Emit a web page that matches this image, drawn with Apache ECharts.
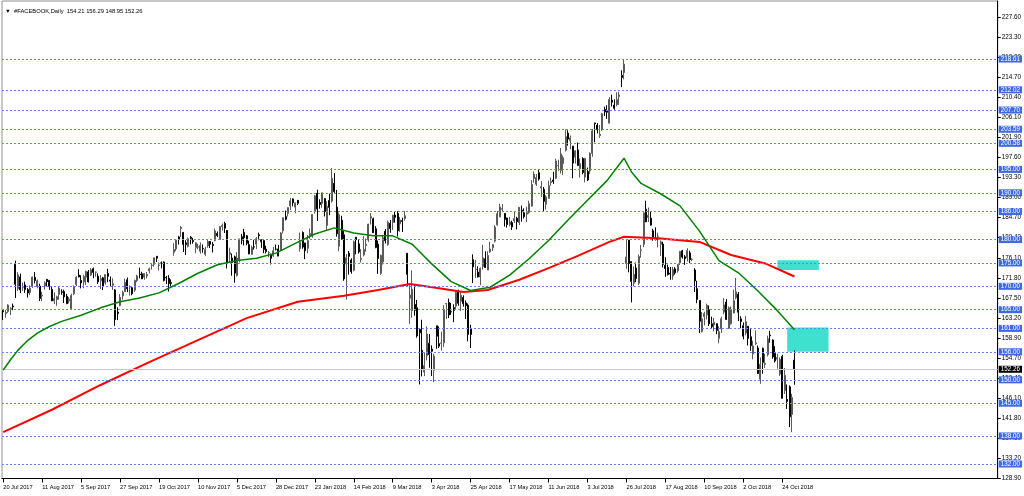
<!DOCTYPE html>
<html><head><meta charset="utf-8">
<script src="https://cdn.jsdelivr.net/npm/echarts@6/dist/echarts.min.js"></script>
<style>html,body{margin:0;padding:0;background:#fff}#c{width:1024px;height:496px}</style>
</head><body><div id="c"></div><script>
const symbolName = '#FACEBOOK,Daily';
const lastBar = [154.21, 156.29, 148.95, 152.26];

const tradingDays = [
 ['Jul 2017',[20,21,24,25,26,27,28,31]],
 ['Aug 2017',[1,2,3,4,7,8,9,10,11,14,15,16,17,18,21,22,23,24,25,28,29,30,31]],
 ['Sep 2017',[1,5,6,7,8,11,12,13,14,15,18,19,20,21,22,25,26,27,28,29]],
 ['Oct 2017',[2,3,4,5,6,9,10,11,12,13,16,17,18,19,20,23,24,25,26,27,30,31]],
 ['Nov 2017',[1,2,3,6,7,8,9,10,13,14,15,16,17,20,21,22,24,27,28,29,30]],
 ['Dec 2017',[1,4,5,6,7,8,11,12,13,14,15,18,19,20,21,22,26,27,28,29]],
 ['Jan 2018',[2,3,4,5,8,9,10,11,12,16,17,18,19,22,23,24,25,26,29,30,31]],
 ['Feb 2018',[1,2,5,6,7,8,9,12,13,14,15,16,20,21,22,23,26,27,28]],
 ['Mar 2018',[1,2,5,6,7,8,9,12,13,14,15,16,19,20,21,22,23,26,27,28,29]],
 ['Apr 2018',[2,3,4,5,6,9,10,11,12,13,16,17,18,19,20,23,24,25,26,27,30]],
 ['May 2018',[1,2,3,4,7,8,9,10,11,14,15,16,17,18,21,22,23,24,25,29,30,31]],
 ['Jun 2018',[1,4,5,6,7,8,11,12,13,14,15,18,19,20,21,22,25,26,27,28,29]],
 ['Jul 2018',[2,3,5,6,9,10,11,12,13,16,17,18,19,20,23,24,25,26,27,30,31]],
 ['Aug 2018',[1,2,3,6,7,8,9,10,13,14,15,16,17,20,21,22,23,24,27,28,29,30,31]],
 ['Sep 2018',[3,4,5,6,7,10,11,12,13,14,17,18,19,20,21,24,25,26,27,28]],
 ['Oct 2018',[1,2,3,4,5,8,9,10,11,12,15,16,17,18,19,22,23,24,25,26,29,30,31]]
];

// [open, high, low, close]
const c2017_07 = [[164.8,165.0,162.8,164.53],[164.16,164.94,163.3,164.43],[164.64,166.17,164.31,166.0],[165.01,165.54,163.86,165.28],[165.8,166.31,164.9,165.61],[174.7,175.49,167.5,170.44],[169.5,173.05,169.0,172.45],[172.0,172.72,168.55,169.25]];
const c2017_08 = [[169.82,170.8,169.05,169.86],[170.3,171.0,168.6,169.3],[169.3,169.6,167.6,168.59],[168.7,170.2,168.1,169.62],[169.95,172.06,169.66,171.98],[171.88,173.05,170.62,171.23],[169.98,171.45,169.56,171.18],[170.06,170.59,166.85,167.4],[167.95,168.82,166.85,168.08],[170.09,171.08,169.29,170.75],[171.49,171.5,170.01,171.0],[171.25,171.38,169.24,170.0],[169.34,169.86,166.85,166.91],[166.84,168.67,166.21,167.41],[167.16,168.0,165.82,167.78],[168.28,169.87,167.15,169.64],[168.84,169.36,168.2,168.71],[168.88,169.29,166.41,167.74],[167.86,168.38,166.18,166.32],[166.91,167.7,166.33,167.24],[165.25,168.43,165.0,168.05],[168.42,170.2,168.12,169.92],[170.4,172.15,170.06,171.97]];
const c2017_09 = [[172.4,173.67,171.9,172.02],[171.27,172.39,169.55,170.72],[170.91,172.48,169.57,172.09],[171.94,173.31,170.27,173.21],[173.09,173.49,170.8,170.95],[172.4,173.89,172.2,173.51],[173.76,174.0,171.75,172.96],[173.01,173.17,172.06,173.05],[172.17,172.77,170.47,170.96],[171.2,172.39,169.4,171.64],[171.81,172.0,169.21,170.01],[170.76,172.56,170.36,172.52],[172.76,173.74,170.9,172.17],[171.35,172.13,170.0,171.11],[170.21,171.73,169.22,170.54],[169.24,169.4,161.56,162.87],[164.5,165.5,162.78,164.21],[165.9,168.35,165.72,167.68],[167.94,169.07,167.16,168.73],[168.83,171.66,168.81,170.87]];
const c2017_10 = [[171.39,171.87,168.75,169.47],[169.83,170.21,168.02,169.96],[169.7,169.98,168.09,168.42],[169.17,171.45,168.8,171.24],[171.2,172.5,170.9,172.23],[172.62,174.0,171.71,172.5],[172.69,173.1,171.55,171.59],[171.95,172.78,171.4,172.74],[172.21,173.06,171.67,172.55],[173.32,174.0,172.75,173.74],[174.49,175.0,173.56,174.52],[174.71,176.1,174.17,176.11],[176.41,176.5,175.2,176.03],[174.49,175.1,173.4,174.56],[175.0,175.31,173.83,174.98],[175.21,175.3,171.03,171.27],[171.9,172.25,170.5,171.8],[171.72,172.39,168.88,170.6],[170.8,171.47,169.74,170.63],[177.24,179.23,176.53,177.88],[178.0,179.86,177.52,179.87],[180.57,180.8,178.94,180.06]];
const c2017_11 = [[182.36,182.9,180.57,182.66],[181.53,181.6,177.35,178.92],[179.29,179.86,176.71,178.92],[178.56,180.45,178.31,180.17],[180.5,180.75,178.96,180.25],[179.79,180.35,179.11,179.56],[178.31,179.4,177.09,179.3],[178.35,179.1,177.96,178.46],[177.5,179.38,176.99,178.77],[178.13,178.97,177.18,178.07],[176.85,178.45,176.44,177.95],[178.64,179.98,178.23,179.59],[179.6,179.68,178.2,179.0],[178.96,179.49,177.25,178.74],[179.78,182.35,179.6,181.86],[181.3,181.73,180.51,180.87],[180.0,182.9,180.0,182.78],[182.78,183.42,181.93,183.03],[183.45,183.81,181.4,182.42],[181.94,182.05,173.82,175.13],[176.85,178.27,175.2,177.18]];
const c2017_12 = [[176.03,177.0,172.26,175.1],[176.3,176.57,170.79,172.83],[172.3,177.3,172.1,176.06],[175.6,180.17,175.11,180.14],[180.6,181.21,178.99,179.87],[181.53,182.28,178.74,180.39],[180.8,180.99,178.79,179.2],[178.9,179.77,176.85,176.94],[176.85,178.68,176.78,178.3],[178.44,179.94,177.85,178.39],[179.0,180.53,177.97,180.18],[181.01,181.48,179.84,180.82],[179.95,180.08,178.22,179.51],[179.81,179.81,177.08,177.89],[177.94,178.68,177.05,177.45],[177.14,177.53,176.23,177.2],[176.63,177.0,174.67,175.99],[176.55,178.44,176.26,177.62],[177.95,178.94,177.68,177.92],[178.0,178.85,176.46,176.46]];
const c2018_01 = [[177.68,181.58,177.55,181.42],[181.88,184.78,181.33,184.67],[184.9,186.21,184.1,184.33],[185.59,186.9,184.93,186.85],[187.2,188.9,186.33,188.28],[188.7,188.8,187.1,187.87],[186.94,187.89,185.63,187.84],[188.4,188.4,187.38,187.77],[178.06,181.48,177.4,179.37],[181.5,181.75,178.04,178.39],[179.26,179.32,175.8,177.6],[178.13,180.98,177.08,179.8],[180.85,182.37,180.17,181.29],[180.8,185.39,180.41,185.37],[186.05,189.55,185.55,189.35],[189.89,190.66,183.97,186.55],[187.95,188.62,186.6,187.48],[187.75,190.0,186.81,190.0],[188.75,188.84,184.94,185.98],[183.01,188.18,181.84,187.12],[188.37,189.83,185.22,186.89]];
const c2018_02 = [[188.22,195.32,187.89,193.09],[192.04,194.21,189.98,190.28],[186.93,190.61,180.61,181.26],[178.57,185.77,177.52,185.31],[184.15,185.08,179.95,180.18],[181.01,181.99,171.18,171.58],[174.76,176.9,167.18,176.11],[177.06,177.55,172.5,176.41],[175.62,175.98,172.7,173.15],[173.45,179.81,173.21,179.52],[180.5,180.5,176.84,179.96],[179.09,179.95,177.0,177.36],[175.77,177.95,175.11,176.01],[176.71,180.74,176.4,177.91],[178.7,180.21,177.41,178.99],[179.9,183.39,179.51,183.29],[184.58,185.66,183.22,184.93],[184.45,184.7,181.46,181.46],[182.3,182.88,178.14,178.32]];
const c2018_03 = [[179.01,179.78,172.66,175.94],[172.8,176.8,172.45,176.62],[175.21,181.0,174.66,180.4],[181.78,182.25,179.17,179.78],[178.95,184.06,178.67,183.71],[183.47,184.18,181.46,182.34],[183.61,185.23,182.02,185.23],[185.23,186.1,183.63,184.76],[185.61,186.06,180.65,181.88],[183.34,184.84,181.66,184.19],[184.06,184.67,181.62,183.86],[184.49,186.1,184.05,185.09],[177.01,177.17,170.06,172.56],[167.47,170.2,161.95,168.15],[164.8,173.4,163.3,169.39],[166.13,170.27,163.72,164.89],[165.44,167.1,159.02,159.39],[160.82,161.1,149.02,160.06],[156.31,162.85,150.75,152.22],[151.65,155.88,150.8,153.03],[155.15,161.42,154.14,159.79]];
const c2018_04 = [[157.81,159.78,152.6,155.39],[156.55,157.39,150.81,156.11],[152.03,155.56,149.53,155.1],[161.56,161.57,156.65,159.34],[157.73,161.42,156.81,157.2],[157.82,160.31,156.24,157.93],[157.93,165.98,157.01,165.04],[166.23,166.45,163.01,166.32],[166.55,167.37,163.2,163.87],[164.58,166.46,163.9,164.52],[165.44,166.17,162.33,164.83],[165.76,169.0,165.04,168.66],[168.91,169.3,165.84,166.36],[166.8,168.89,164.75,168.1],[167.6,168.06,165.65,166.28],[166.46,167.0,163.03,165.84],[165.99,166.33,158.22,159.69],[160.9,161.76,156.8,159.69],[175.7,176.84,170.69,174.16],[173.58,175.65,171.76,173.59],[173.05,174.28,171.9,172.0]];
const c2018_05 = [[172.0,174.02,170.23,173.86],[174.25,178.87,173.57,176.07],[175.88,177.5,174.44,174.02],[173.49,177.5,173.48,176.61],[177.35,179.5,177.17,177.97],[178.25,179.03,177.55,178.92],[179.67,183.07,179.36,182.66],[183.15,186.1,182.96,185.53],[184.85,187.67,184.75,186.99],[186.5,187.6,185.87,186.64],[185.58,185.64,182.8,184.32],[184.61,184.71,182.55,183.2],[183.2,184.84,182.82,183.76],[183.66,184.03,182.05,182.68],[184.0,186.08,183.55,184.49],[184.56,184.88,182.18,183.8],[183.62,186.96,183.11,186.9],[186.24,187.27,183.83,185.93],[185.73,186.66,184.5,184.92],[185.44,187.07,183.72,185.74],[185.81,188.31,185.5,187.67],[187.17,192.72,187.04,191.78]];
const c2018_06 = [[193.07,194.58,192.15,193.99],[191.84,193.98,191.47,193.28],[194.3,195.0,192.62,192.94],[191.03,192.53,189.11,191.34],[190.75,191.25,186.1,188.18],[187.53,189.48,186.43,189.1],[188.81,192.6,188.8,191.54],[192.17,193.28,191.56,192.4],[192.74,194.5,191.91,192.41],[193.1,197.28,192.91,196.81],[195.79,197.07,194.64,195.85],[194.8,199.58,194.13,198.31],[196.24,197.96,193.79,197.49],[199.1,203.55,198.81,202.0],[202.76,203.39,200.09,201.5],[201.16,202.24,199.31,201.74],[200.0,200.0,193.11,196.35],[197.6,199.1,196.23,199.0],[199.18,200.75,195.8,195.84],[195.18,197.34,193.26,196.23],[197.32,197.6,193.96,194.32]];
const c2018_07 = [[193.37,197.45,192.22,197.36],[194.55,195.4,192.52,192.73],[194.74,198.65,194.03,198.45],[198.45,203.64,197.7,203.23],[204.93,204.99,200.8,204.74],[204.5,204.9,202.7,203.54],[202.22,204.5,201.75,202.54],[203.43,207.08,203.3,206.92],[207.81,208.43,206.43,207.32],[207.5,208.72,205.81,207.23],[204.9,210.46,204.84,209.99],[209.82,210.99,208.44,209.36],[208.77,209.99,207.76,208.09],[208.85,211.5,208.5,209.94],[210.58,211.62,208.8,210.91],[215.11,216.2,212.6,214.67],[215.72,218.62,214.27,217.5],[174.89,180.13,173.75,176.26],[179.87,179.93,173.0,174.89],[175.3,175.3,166.56,171.06],[170.67,174.24,170.0,172.58]];
const c2018_08 = [[173.93,175.08,170.9,171.65],[170.68,176.79,170.27,176.37],[177.69,178.85,176.15,177.78],[178.97,185.79,178.38,185.69],[186.5,188.3,183.72,183.81],[184.75,186.85,183.76,185.18],[184.58,186.09,183.0,183.09],[181.88,182.3,179.75,180.26],[180.1,182.61,179.79,180.05],[180.71,181.46,178.3,180.71],[178.97,179.8,176.5,179.53],[179.04,179.54,174.05,174.7],[174.5,176.22,172.04,173.8],[174.04,174.65,172.31,172.5],[172.81,174.17,171.39,172.62],[172.21,174.17,171.39,173.64],[173.73,174.12,172.5,172.9],[173.33,174.75,172.94,174.65],[175.0,177.6,174.57,177.46],[177.6,177.8,175.91,176.26],[176.3,176.68,174.59,175.9],[176.13,178.15,175.3,177.64],[177.15,177.62,174.98,175.73]];
const c2018_09 = [[175.73,176.0,175.4,175.8],[173.5,173.89,168.8,171.16],[169.49,171.19,166.39,167.18],[166.98,166.98,160.0,162.53],[160.31,164.52,160.15,163.04],[163.51,164.55,161.65,164.18],[163.9,166.29,162.92,165.94],[165.0,165.9,161.51,162.0],[162.0,163.5,160.86,161.36],[161.72,163.25,160.38,162.32],[162.0,162.06,159.77,160.58],[158.87,161.46,157.8,160.3],[160.92,163.49,160.01,163.06],[164.5,167.45,164.02,166.02],[166.64,167.25,162.81,162.93],[161.03,165.7,160.88,165.41],[161.99,165.67,161.79,164.91],[164.3,169.3,164.21,166.95],[167.55,171.77,167.21,168.84],[168.33,168.79,162.56,164.46]];
const c2018_10 = [[163.03,163.6,161.04,162.44],[161.58,162.28,158.67,159.33],[160.0,163.66,159.53,162.43],[161.46,161.46,157.35,158.85],[159.21,160.9,156.2,157.33],[155.54,158.34,154.39,157.25],[157.69,160.59,157.42,157.9],[156.82,157.34,151.31,151.38],[150.13,154.81,149.16,153.35],[156.73,156.89,151.3,153.74],[153.32,155.57,152.55,153.52],[155.4,159.46,155.01,158.78],[159.56,160.49,157.95,159.42],[158.51,158.66,154.5,154.92],[155.86,157.2,153.7,154.05],[154.42,155.58,152.41,154.78],[151.22,154.77,150.85,154.39],[155.0,155.36,146.02,146.04],[147.74,152.54,146.98,150.95],[145.82,149.0,143.8,145.37],[148.5,148.83,139.9,142.09],[142.6,147.0,138.8,146.22],[154.21,156.29,148.95,152.26]];

// moving averages at sample bars
const maFastIdx = [0,3,6,10,14,19,24,32,40,48,56,64,72,80,88,96,104,112,120,128,136,144,152,160,168,176,184,192,200,208,216,224,232,240,248,255,258,262,270,278,286,294,302,310,318,325];
const maFastVal = [152.1,154.3,156.3,158.4,160.0,161.4,162.5,163.8,165.4,166.7,167.5,168.6,170.6,172.8,174.6,175.5,176.0,177.1,179.2,181.2,182.5,181.4,180.8,180.8,179.0,174.8,171.0,169.1,169.8,172.4,175.9,179.8,184.2,188.4,192.6,197.4,194.5,192.0,189.8,187.2,181.8,175.5,172.9,169.0,164.8,160.7];
const maSlowIdx = [0,20,40,60,80,100,121,140,154,167,179,189,199,212,224,236,249,255,269,286,299,313,325];
const maSlowVal = [138.8,143.6,148.9,153.8,158.5,163.2,166.7,168.0,169.2,170.5,169.6,168.8,169.2,171.4,173.9,176.5,179.5,180.6,180.3,179.5,176.7,174.9,172.1];

const levelLines = [218.61,212.02,207.70,203.59,200.58,195.00,190.00,186.00,180.00,175.00,170.00,165.00,161.00,156.00,150.00,145.00,138.00,132.00];
const priceTicks = [128.90,133.20,137.50,141.80,146.10,150.40,154.70,158.90,163.20,167.50,171.80,176.10,180.40,184.70,189.00,193.30,197.60,201.90,206.10,210.40,214.70,219.00,223.30,227.60];
const zones = [
  {from:318, to:335, low:173.5, high:175.6},
  {from:322, to:339, low:156.0, high:161.2}
];
const TOTAL_SLOTS = 409;

const dates = [];
tradingDays.forEach(([my, days]) => days.forEach(d => dates.push(d + ' ' + my)));
const categories = dates.slice();
while (categories.length < TOTAL_SLOTS) categories.push('');
const ohlc = [].concat(c2017_07,c2017_08,c2017_09,c2017_10,c2017_11,c2017_12,c2018_01,c2018_02,c2018_03,c2018_04,c2018_05,c2018_06,c2018_07,c2018_08,c2018_09,c2018_10);
const candleData = ohlc.map(([o,h,l,c]) => [o,c,l,h]);
function sparse(idx, vals){ const a = new Array(dates.length).fill(null); idx.forEach((k,j)=>{a[k]=vals[j];}); return a; }
const showIdx = (i) => i % 16 === 0 && i < dates.length;
const FONT = 'Liberation Sans';
const FS = 6.3;

const chart = echarts.init(document.getElementById('c'), null, {renderer:'canvas'});
chart.setOption({
  animation:false,
  backgroundColor:'#ffffff',
  title:{text:'\u25BC  ' + symbolName + '  ' + lastBar.map(v=>v.toFixed(2)).join(' '), left:0, top:3,
    textStyle:{fontSize:5.8, fontWeight:'normal', color:'#000', fontFamily:FONT}},
  grid:{left:2, right:24, top:1, bottom:17.5, show:true, borderColor:'#909090', borderWidth:1},
  xAxis:{type:'category', data:categories, boundaryGap:true,
    axisLine:{show:true, lineStyle:{color:'#000'}},
    axisTick:{show:true, alignWithLabel:true, interval:showIdx, length:4, lineStyle:{color:'#000'}},
    axisLabel:{interval:showIdx, align:'left', fontSize:5.7, fontFamily:FONT, color:'#000', margin:6, padding:[0,0,0,0]},
    splitLine:{show:false}},
  yAxis:{type:'value', position:'right', min:128.9, max:231.02,
    axisLine:{show:true, lineStyle:{color:'#000'}},
    splitLine:{show:false},
    axisTick:{show:true, length:3, customValues:priceTicks, lineStyle:{color:'#000'}},
    axisLabel:{customValues:priceTicks, formatter:v=>v.toFixed(2), fontSize:FS, fontFamily:FONT, color:'#000', margin:4}},
  series:[
    {type:'line', data:[], z:1, silent:true,
      markArea:{silent:true, itemStyle:{color:'#40e0d0', opacity:1},
        data: zones.map(z=>[{xAxis:z.from, yAxis:z.high},{xAxis:z.to, yAxis:z.low}])}},
    {type:'line', data:[], z:2, silent:true,
      markLine:{silent:true, symbol:['none','none'], animation:false,
        data: levelLines.map(v=>({yAxis:v, lineStyle:{color:'#5f86f5', type:[2,2], width:1},
          label:{show:true, position:'end', distance:1, formatter:v.toFixed(2), color:'#fff',
            backgroundColor:'#3f6ae6', padding:[1,2,0,2], fontSize:FS, fontFamily:FONT}}))
        .concat([{yAxis:lastBar[3], lineStyle:{color:'#c8c8c8', type:'solid', width:1},
          label:{show:true, position:'end', distance:1, formatter:lastBar[3].toFixed(2), color:'#fff',
            backgroundColor:'#000', padding:[1,2,0,2], fontSize:FS, fontFamily:FONT}}])}},
    {type:'candlestick', data:candleData, z:3, barWidth:1.5,
      itemStyle:{color:'#9a9a9a', color0:'#000000', borderColor:'#5a5a5a', borderColor0:'#000000', borderWidth:1}},
    {type:'line', data:sparse(maSlowIdx, maSlowVal), connectNulls:true, showSymbol:false, symbol:'none', z:4,
      lineStyle:{color:'#ff0000', width:2}},
    {type:'line', data:sparse(maFastIdx, maFastVal), connectNulls:true, showSymbol:false, symbol:'none', z:5,
      lineStyle:{color:'#008000', width:1.5}}
  ]
});
</script></body></html>
